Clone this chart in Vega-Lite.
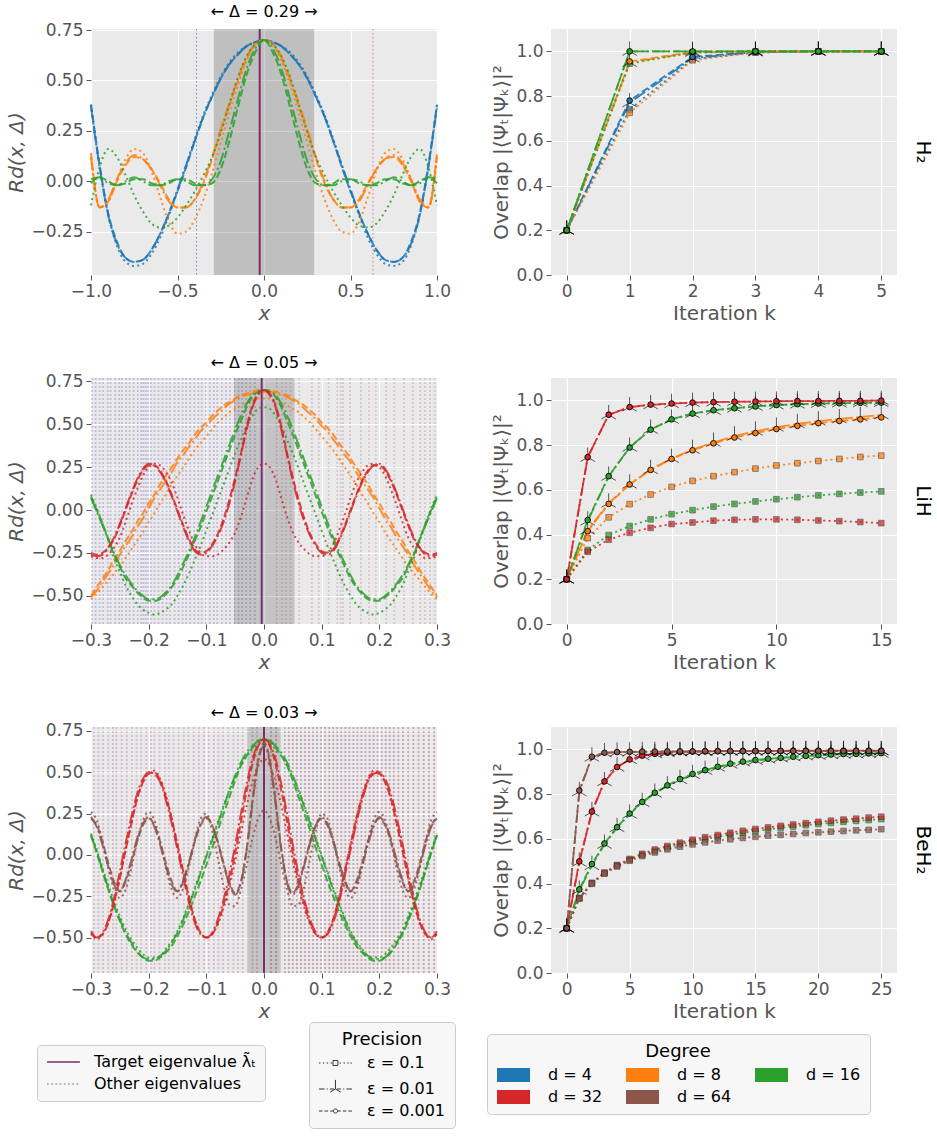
{
  "$schema": "https://vega.github.io/schema/vega-lite/v6.json",
  "background": "white",
  "padding": {"left": 6, "top": 4, "right": 5, "bottom": 5},
  "config": {
    "font": "DejaVu Sans",
    "view": {"fill": "#EAEAEA", "stroke": null},
    "axis": {"domain": false, "grid": true, "gridColor": "#FFFFFF", "gridWidth": 1.2, "tickColor": "#555555", "tickSize": 5, "tickWidth": 1, "labelColor": "#555555", "labelFontSize": 17, "labelPadding": 3, "labelFlush": false, "labelOverlap": false, "titleColor": "#555555", "titleFontSize": 20, "titleFontWeight": "normal", "titlePadding": 4},
    "title": {"fontWeight": "normal", "color": "#000000", "fontSize": 16},
    "legend": {"labelFont": "DejaVu Sans", "titleFont": "DejaVu Sans", "labelLimit": 400}
  },
  "datasets": {
    "p1": [
      {"x":-1,"B1":0.38,"B2":0.37,"B3":0.38,"O1":0.12,"O2":0.12,"O3":0.14,"G1":-0.12,"G2":0.01,"G3":-0.01},
      {"x":-0.95,"B1":0.07,"B2":0.07,"B3":0.08,"O1":-0.13,"O2":-0.13,"O3":-0.13,"G1":0.07,"G2":0.02,"G3":0.02},
      {"x":-0.9,"B1":-0.17,"B2":-0.17,"B3":-0.16,"O1":-0.10,"O2":-0.09,"O3":-0.10,"G1":0.16,"G2":-0.01,"G3":0.00},
      {"x":-0.85,"B1":-0.32,"B2":-0.31,"B3":-0.30,"O1":0.01,"O2":0.01,"O3":0.00,"G1":0.12,"G2":-0.02,"G3":-0.02},
      {"x":-0.8,"B1":-0.40,"B2":-0.38,"B3":-0.38,"O1":0.11,"O2":0.09,"O3":0.08,"G1":0.03,"G2":0.00,"G3":-0.01},
      {"x":-0.75,"B1":-0.42,"B2":-0.40,"B3":-0.40,"O1":0.16,"O2":0.13,"O3":0.12,"G1":-0.07,"G2":0.02,"G3":0.01},
      {"x":-0.7,"B1":-0.41,"B2":-0.39,"B3":-0.39,"O1":0.14,"O2":0.11,"O3":0.11,"G1":-0.15,"G2":0.00,"G3":0.01},
      {"x":-0.65,"B1":-0.36,"B2":-0.34,"B3":-0.34,"O1":0.05,"O2":0.06,"O3":0.06,"G1":-0.21,"G2":-0.02,"G3":-0.01},
      {"x":-0.6,"B1":-0.28,"B2":-0.26,"B3":-0.26,"O1":-0.08,"O2":-0.02,"O3":-0.01,"G1":-0.23,"G2":-0.02,"G3":-0.02},
      {"x":-0.55,"B1":-0.17,"B2":-0.16,"B3":-0.16,"O1":-0.20,"O2":-0.10,"O3":-0.09,"G1":-0.22,"G2":0.00,"G3":-0.01},
      {"x":-0.5,"B1":-0.05,"B2":-0.04,"B3":-0.05,"O1":-0.26,"O2":-0.13,"O3":-0.13,"G1":-0.18,"G2":0.01,"G3":0.01},
      {"x":-0.45,"B1":0.08,"B2":0.08,"B3":0.07,"O1":-0.25,"O2":-0.13,"O3":-0.13,"G1":-0.12,"G2":0.00,"G3":0.01},
      {"x":-0.4,"B1":0.21,"B2":0.20,"B3":0.20,"O1":-0.19,"O2":-0.09,"O3":-0.09,"G1":-0.05,"G2":-0.02,"G3":-0.01},
      {"x":-0.35,"B1":0.33,"B2":0.32,"B3":0.32,"O1":-0.09,"O2":0.00,"O3":-0.01,"G1":0.03,"G2":-0.02,"G3":-0.02},
      {"x":-0.3,"B1":0.43,"B2":0.42,"B3":0.42,"O1":0.04,"O2":0.12,"O3":0.11,"G1":0.12,"G2":0.01,"G3":-0.01},
      {"x":-0.25,"B1":0.52,"B2":0.51,"B3":0.51,"O1":0.19,"O2":0.26,"O3":0.25,"G1":0.24,"G2":0.10,"G3":0.06},
      {"x":-0.2,"B1":0.59,"B2":0.58,"B3":0.58,"O1":0.34,"O2":0.39,"O3":0.38,"G1":0.38,"G2":0.25,"G3":0.20},
      {"x":-0.15,"B1":0.64,"B2":0.63,"B3":0.63,"O1":0.48,"O2":0.51,"O3":0.50,"G1":0.52,"G2":0.41,"G3":0.37},
      {"x":-0.1,"B1":0.67,"B2":0.67,"B3":0.67,"O1":0.60,"O2":0.62,"O3":0.61,"G1":0.62,"G2":0.56,"G3":0.53},
      {"x":-0.05,"B1":0.69,"B2":0.69,"B3":0.69,"O1":0.68,"O2":0.68,"O3":0.68,"G1":0.68,"G2":0.66,"G3":0.64},
      {"x":0,"B1":0.70,"B2":0.70,"B3":0.70,"O1":0.70,"O2":0.70,"O3":0.70,"G1":0.70,"G2":0.70,"G3":0.70},
      {"x":0.05,"B1":0.69,"B2":0.69,"B3":0.69,"O1":0.68,"O2":0.68,"O3":0.68,"G1":0.68,"G2":0.66,"G3":0.64},
      {"x":0.1,"B1":0.67,"B2":0.67,"B3":0.67,"O1":0.60,"O2":0.62,"O3":0.61,"G1":0.62,"G2":0.56,"G3":0.53},
      {"x":0.15,"B1":0.64,"B2":0.63,"B3":0.63,"O1":0.48,"O2":0.51,"O3":0.50,"G1":0.52,"G2":0.41,"G3":0.37},
      {"x":0.2,"B1":0.59,"B2":0.58,"B3":0.58,"O1":0.34,"O2":0.39,"O3":0.38,"G1":0.38,"G2":0.25,"G3":0.20},
      {"x":0.25,"B1":0.52,"B2":0.51,"B3":0.51,"O1":0.19,"O2":0.26,"O3":0.25,"G1":0.24,"G2":0.10,"G3":0.06},
      {"x":0.3,"B1":0.43,"B2":0.42,"B3":0.42,"O1":0.04,"O2":0.12,"O3":0.11,"G1":0.12,"G2":0.01,"G3":-0.01},
      {"x":0.35,"B1":0.33,"B2":0.32,"B3":0.32,"O1":-0.09,"O2":0.00,"O3":-0.01,"G1":0.03,"G2":-0.02,"G3":-0.02},
      {"x":0.4,"B1":0.21,"B2":0.20,"B3":0.20,"O1":-0.19,"O2":-0.09,"O3":-0.09,"G1":-0.05,"G2":-0.02,"G3":-0.01},
      {"x":0.45,"B1":0.08,"B2":0.08,"B3":0.07,"O1":-0.25,"O2":-0.13,"O3":-0.13,"G1":-0.12,"G2":0.00,"G3":0.01},
      {"x":0.5,"B1":-0.05,"B2":-0.04,"B3":-0.05,"O1":-0.26,"O2":-0.13,"O3":-0.13,"G1":-0.18,"G2":0.01,"G3":0.01},
      {"x":0.55,"B1":-0.17,"B2":-0.16,"B3":-0.16,"O1":-0.20,"O2":-0.10,"O3":-0.09,"G1":-0.22,"G2":0.00,"G3":-0.01},
      {"x":0.6,"B1":-0.28,"B2":-0.26,"B3":-0.26,"O1":-0.08,"O2":-0.02,"O3":-0.01,"G1":-0.23,"G2":-0.02,"G3":-0.02},
      {"x":0.65,"B1":-0.36,"B2":-0.34,"B3":-0.34,"O1":0.05,"O2":0.06,"O3":0.06,"G1":-0.21,"G2":-0.02,"G3":-0.01},
      {"x":0.7,"B1":-0.41,"B2":-0.39,"B3":-0.39,"O1":0.14,"O2":0.11,"O3":0.11,"G1":-0.15,"G2":0.00,"G3":0.01},
      {"x":0.75,"B1":-0.42,"B2":-0.40,"B3":-0.40,"O1":0.16,"O2":0.13,"O3":0.12,"G1":-0.07,"G2":0.02,"G3":0.01},
      {"x":0.8,"B1":-0.40,"B2":-0.38,"B3":-0.38,"O1":0.11,"O2":0.09,"O3":0.08,"G1":0.03,"G2":0.00,"G3":-0.01},
      {"x":0.85,"B1":-0.32,"B2":-0.31,"B3":-0.30,"O1":0.01,"O2":0.01,"O3":0.00,"G1":0.12,"G2":-0.02,"G3":-0.02},
      {"x":0.9,"B1":-0.17,"B2":-0.17,"B3":-0.16,"O1":-0.10,"O2":-0.09,"O3":-0.10,"G1":0.16,"G2":-0.01,"G3":0.00},
      {"x":0.95,"B1":0.07,"B2":0.07,"B3":0.08,"O1":-0.13,"O2":-0.13,"O3":-0.13,"G1":0.07,"G2":0.02,"G3":0.02},
      {"x":1,"B1":0.38,"B2":0.37,"B3":0.38,"O1":0.12,"O2":0.12,"O3":0.14,"G1":-0.12,"G2":0.01,"G3":-0.01}
    ],
    "p2": [
      {"x":-0.30,"O1":-0.52,"O2":-0.51,"O3":-0.50,"G1":0.09,"G2":0.07,"G3":0.08,"R1":-0.27,"R2":-0.26,"R3":-0.25},
      {"x":-0.29,"O1":-0.49,"O2":-0.47,"O3":-0.45,"G1":0.01,"G2":-0.01,"G3":0.00,"R1":-0.28,"R2":-0.27,"R3":-0.26},
      {"x":-0.28,"O1":-0.45,"O2":-0.42,"O3":-0.40,"G1":-0.08,"G2":-0.09,"G3":-0.08,"R1":-0.28,"R2":-0.26,"R3":-0.25},
      {"x":-0.27,"O1":-0.41,"O2":-0.37,"O3":-0.35,"G1":-0.18,"G2":-0.17,"G3":-0.17,"R1":-0.26,"R2":-0.22,"R3":-0.22},
      {"x":-0.26,"O1":-0.37,"O2":-0.32,"O3":-0.29,"G1":-0.28,"G2":-0.25,"G3":-0.26,"R1":-0.22,"R2":-0.16,"R3":-0.17},
      {"x":-0.25,"O1":-0.33,"O2":-0.26,"O3":-0.24,"G1":-0.36,"G2":-0.32,"G3":-0.33,"R1":-0.16,"R2":-0.08,"R3":-0.09},
      {"x":-0.24,"O1":-0.28,"O2":-0.21,"O3":-0.18,"G1":-0.44,"G2":-0.38,"G3":-0.40,"R1":-0.07,"R2":0.01,"R3":0.00},
      {"x":-0.23,"O1":-0.23,"O2":-0.16,"O3":-0.13,"G1":-0.50,"G2":-0.43,"G3":-0.44,"R1":0.03,"R2":0.10,"R3":0.09},
      {"x":-0.22,"O1":-0.18,"O2":-0.10,"O3":-0.07,"G1":-0.55,"G2":-0.47,"G3":-0.48,"R1":0.12,"R2":0.18,"R3":0.17},
      {"x":-0.21,"O1":-0.13,"O2":-0.05,"O3":-0.02,"G1":-0.58,"G2":-0.50,"G3":-0.51,"R1":0.20,"R2":0.24,"R3":0.23},
      {"x":-0.20,"O1":-0.07,"O2":0.01,"O3":0.04,"G1":-0.60,"G2":-0.52,"G3":-0.53,"R1":0.25,"R2":0.27,"R3":0.26},
      {"x":-0.19,"O1":-0.02,"O2":0.07,"O3":0.09,"G1":-0.61,"G2":-0.52,"G3":-0.53,"R1":0.27,"R2":0.26,"R3":0.26},
      {"x":-0.18,"O1":0.04,"O2":0.12,"O3":0.15,"G1":-0.60,"G2":-0.51,"G3":-0.52,"R1":0.26,"R2":0.22,"R3":0.23},
      {"x":-0.17,"O1":0.09,"O2":0.17,"O3":0.20,"G1":-0.58,"G2":-0.48,"G3":-0.49,"R1":0.22,"R2":0.16,"R3":0.17},
      {"x":-0.16,"O1":0.15,"O2":0.22,"O3":0.25,"G1":-0.55,"G2":-0.44,"G3":-0.45,"R1":0.16,"R2":0.08,"R3":0.09},
      {"x":-0.15,"O1":0.20,"O2":0.28,"O3":0.30,"G1":-0.50,"G2":-0.38,"G3":-0.40,"R1":0.07,"R2":-0.01,"R3":0.00},
      {"x":-0.14,"O1":0.25,"O2":0.32,"O3":0.35,"G1":-0.44,"G2":-0.31,"G3":-0.33,"R1":-0.03,"R2":-0.10,"R3":-0.09},
      {"x":-0.13,"O1":0.30,"O2":0.37,"O3":0.39,"G1":-0.37,"G2":-0.24,"G3":-0.26,"R1":-0.12,"R2":-0.18,"R3":-0.17},
      {"x":-0.12,"O1":0.35,"O2":0.41,"O3":0.44,"G1":-0.29,"G2":-0.16,"G3":-0.18,"R1":-0.20,"R2":-0.24,"R3":-0.23},
      {"x":-0.11,"O1":0.39,"O2":0.46,"O3":0.48,"G1":-0.21,"G2":-0.07,"G3":-0.10,"R1":-0.25,"R2":-0.26,"R3":-0.25},
      {"x":-0.10,"O1":0.43,"O2":0.49,"O3":0.51,"G1":-0.12,"G2":0.02,"G3":-0.01,"R1":-0.27,"R2":-0.25,"R3":-0.24},
      {"x":-0.09,"O1":0.47,"O2":0.53,"O3":0.55,"G1":-0.03,"G2":0.11,"G3":0.08,"R1":-0.27,"R2":-0.21,"R3":-0.20},
      {"x":-0.08,"O1":0.51,"O2":0.56,"O3":0.58,"G1":0.06,"G2":0.20,"G3":0.17,"R1":-0.26,"R2":-0.15,"R3":-0.14},
      {"x":-0.07,"O1":0.54,"O2":0.59,"O3":0.61,"G1":0.15,"G2":0.29,"G3":0.26,"R1":-0.23,"R2":-0.07,"R3":-0.05},
      {"x":-0.06,"O1":0.57,"O2":0.62,"O3":0.63,"G1":0.24,"G2":0.38,"G3":0.35,"R1":-0.19,"R2":0.04,"R3":0.06},
      {"x":-0.05,"O1":0.59,"O2":0.64,"O3":0.65,"G1":0.33,"G2":0.47,"G3":0.44,"R1":-0.13,"R2":0.17,"R3":0.19},
      {"x":-0.04,"O1":0.61,"O2":0.66,"O3":0.67,"G1":0.41,"G2":0.55,"G3":0.52,"R1":-0.04,"R2":0.32,"R3":0.33},
      {"x":-0.03,"O1":0.63,"O2":0.67,"O3":0.68,"G1":0.49,"G2":0.62,"G3":0.60,"R1":0.07,"R2":0.47,"R3":0.49},
      {"x":-0.02,"O1":0.64,"O2":0.68,"O3":0.69,"G1":0.55,"G2":0.67,"G3":0.66,"R1":0.18,"R2":0.60,"R3":0.61},
      {"x":-0.01,"O1":0.65,"O2":0.69,"O3":0.70,"G1":0.59,"G2":0.69,"G3":0.69,"R1":0.25,"R2":0.67,"R3":0.68},
      {"x":0.00,"O1":0.65,"O2":0.69,"O3":0.70,"G1":0.60,"G2":0.70,"G3":0.70,"R1":0.27,"R2":0.70,"R3":0.70},
      {"x":0.01,"O1":0.65,"O2":0.69,"O3":0.70,"G1":0.59,"G2":0.69,"G3":0.69,"R1":0.25,"R2":0.67,"R3":0.68},
      {"x":0.02,"O1":0.64,"O2":0.68,"O3":0.69,"G1":0.55,"G2":0.67,"G3":0.66,"R1":0.18,"R2":0.60,"R3":0.61},
      {"x":0.03,"O1":0.63,"O2":0.67,"O3":0.68,"G1":0.49,"G2":0.62,"G3":0.60,"R1":0.07,"R2":0.47,"R3":0.49},
      {"x":0.04,"O1":0.61,"O2":0.66,"O3":0.67,"G1":0.41,"G2":0.55,"G3":0.52,"R1":-0.04,"R2":0.32,"R3":0.33},
      {"x":0.05,"O1":0.59,"O2":0.64,"O3":0.65,"G1":0.33,"G2":0.47,"G3":0.44,"R1":-0.13,"R2":0.17,"R3":0.19},
      {"x":0.06,"O1":0.57,"O2":0.62,"O3":0.63,"G1":0.24,"G2":0.38,"G3":0.35,"R1":-0.19,"R2":0.04,"R3":0.06},
      {"x":0.07,"O1":0.54,"O2":0.59,"O3":0.61,"G1":0.15,"G2":0.29,"G3":0.26,"R1":-0.23,"R2":-0.07,"R3":-0.05},
      {"x":0.08,"O1":0.51,"O2":0.56,"O3":0.58,"G1":0.06,"G2":0.20,"G3":0.17,"R1":-0.26,"R2":-0.15,"R3":-0.14},
      {"x":0.09,"O1":0.47,"O2":0.53,"O3":0.55,"G1":-0.03,"G2":0.11,"G3":0.08,"R1":-0.27,"R2":-0.21,"R3":-0.20},
      {"x":0.10,"O1":0.43,"O2":0.49,"O3":0.51,"G1":-0.12,"G2":0.02,"G3":-0.01,"R1":-0.27,"R2":-0.25,"R3":-0.24},
      {"x":0.11,"O1":0.39,"O2":0.46,"O3":0.48,"G1":-0.21,"G2":-0.07,"G3":-0.10,"R1":-0.25,"R2":-0.26,"R3":-0.25},
      {"x":0.12,"O1":0.35,"O2":0.41,"O3":0.44,"G1":-0.29,"G2":-0.16,"G3":-0.18,"R1":-0.20,"R2":-0.24,"R3":-0.23},
      {"x":0.13,"O1":0.30,"O2":0.37,"O3":0.39,"G1":-0.37,"G2":-0.24,"G3":-0.26,"R1":-0.12,"R2":-0.18,"R3":-0.17},
      {"x":0.14,"O1":0.25,"O2":0.32,"O3":0.35,"G1":-0.44,"G2":-0.31,"G3":-0.33,"R1":-0.03,"R2":-0.10,"R3":-0.09},
      {"x":0.15,"O1":0.20,"O2":0.28,"O3":0.30,"G1":-0.50,"G2":-0.38,"G3":-0.40,"R1":0.07,"R2":-0.01,"R3":0.00},
      {"x":0.16,"O1":0.15,"O2":0.22,"O3":0.25,"G1":-0.55,"G2":-0.44,"G3":-0.45,"R1":0.16,"R2":0.08,"R3":0.09},
      {"x":0.17,"O1":0.09,"O2":0.17,"O3":0.20,"G1":-0.58,"G2":-0.48,"G3":-0.49,"R1":0.22,"R2":0.16,"R3":0.17},
      {"x":0.18,"O1":0.04,"O2":0.12,"O3":0.15,"G1":-0.60,"G2":-0.51,"G3":-0.52,"R1":0.26,"R2":0.22,"R3":0.23},
      {"x":0.19,"O1":-0.02,"O2":0.07,"O3":0.09,"G1":-0.61,"G2":-0.52,"G3":-0.53,"R1":0.27,"R2":0.26,"R3":0.26},
      {"x":0.20,"O1":-0.07,"O2":0.01,"O3":0.04,"G1":-0.60,"G2":-0.52,"G3":-0.53,"R1":0.25,"R2":0.27,"R3":0.26},
      {"x":0.21,"O1":-0.13,"O2":-0.05,"O3":-0.02,"G1":-0.58,"G2":-0.50,"G3":-0.51,"R1":0.20,"R2":0.24,"R3":0.23},
      {"x":0.22,"O1":-0.18,"O2":-0.10,"O3":-0.07,"G1":-0.55,"G2":-0.47,"G3":-0.48,"R1":0.12,"R2":0.18,"R3":0.17},
      {"x":0.23,"O1":-0.23,"O2":-0.16,"O3":-0.13,"G1":-0.50,"G2":-0.43,"G3":-0.44,"R1":0.03,"R2":0.10,"R3":0.09},
      {"x":0.24,"O1":-0.28,"O2":-0.21,"O3":-0.18,"G1":-0.44,"G2":-0.38,"G3":-0.40,"R1":-0.07,"R2":0.01,"R3":0.00},
      {"x":0.25,"O1":-0.33,"O2":-0.26,"O3":-0.24,"G1":-0.36,"G2":-0.32,"G3":-0.33,"R1":-0.16,"R2":-0.08,"R3":-0.09},
      {"x":0.26,"O1":-0.37,"O2":-0.32,"O3":-0.29,"G1":-0.28,"G2":-0.25,"G3":-0.26,"R1":-0.22,"R2":-0.16,"R3":-0.17},
      {"x":0.27,"O1":-0.41,"O2":-0.37,"O3":-0.35,"G1":-0.18,"G2":-0.17,"G3":-0.17,"R1":-0.26,"R2":-0.22,"R3":-0.22},
      {"x":0.28,"O1":-0.45,"O2":-0.42,"O3":-0.40,"G1":-0.08,"G2":-0.09,"G3":-0.08,"R1":-0.28,"R2":-0.26,"R3":-0.25},
      {"x":0.29,"O1":-0.49,"O2":-0.47,"O3":-0.45,"G1":0.01,"G2":-0.01,"G3":0.00,"R1":-0.28,"R2":-0.27,"R3":-0.26},
      {"x":0.30,"O1":-0.52,"O2":-0.51,"O3":-0.50,"G1":0.09,"G2":0.07,"G3":0.08,"R1":-0.27,"R2":-0.26,"R3":-0.25}
    ],
    "p3": [
      {"x":-0.30,"G1":0.13,"G2":0.12,"G3":0.12,"R1":-0.47,"R2":-0.48,"R3":-0.46,"N1":0.26,"N2":0.23,"N3":0.22},
      {"x":-0.29,"G1":0.03,"G2":0.02,"G3":0.01,"R1":-0.51,"R2":-0.50,"R3":-0.50,"N1":0.21,"N2":0.17,"N3":0.18},
      {"x":-0.28,"G1":-0.08,"G2":-0.09,"G3":-0.10,"R1":-0.48,"R2":-0.47,"R3":-0.48,"N1":0.08,"N2":0.06,"N3":0.08},
      {"x":-0.27,"G1":-0.18,"G2":-0.20,"G3":-0.21,"R1":-0.41,"R2":-0.39,"R3":-0.41,"N1":-0.08,"N2":-0.07,"N3":-0.05},
      {"x":-0.26,"G1":-0.28,"G2":-0.30,"G3":-0.31,"R1":-0.29,"R2":-0.26,"R3":-0.29,"N1":-0.21,"N2":-0.18,"N3":-0.16},
      {"x":-0.25,"G1":-0.37,"G2":-0.39,"G3":-0.40,"R1":-0.14,"R2":-0.10,"R3":-0.14,"N1":-0.26,"N2":-0.22,"N3":-0.22},
      {"x":-0.24,"G1":-0.45,"G2":-0.47,"G3":-0.48,"R1":0.03,"R2":0.07,"R3":0.03,"N1":-0.21,"N2":-0.15,"N3":-0.16},
      {"x":-0.23,"G1":-0.51,"G2":-0.53,"G3":-0.54,"R1":0.19,"R2":0.23,"R3":0.19,"N1":-0.08,"N2":-0.03,"N3":-0.05},
      {"x":-0.22,"G1":-0.56,"G2":-0.58,"G3":-0.59,"R1":0.34,"R2":0.37,"R3":0.34,"N1":0.08,"N2":0.10,"N3":0.08},
      {"x":-0.21,"G1":-0.60,"G2":-0.62,"G3":-0.62,"R1":0.44,"R2":0.46,"R3":0.44,"N1":0.21,"N2":0.19,"N3":0.18},
      {"x":-0.20,"G1":-0.62,"G2":-0.63,"G3":-0.64,"R1":0.50,"R2":0.50,"R3":0.49,"N1":0.26,"N2":0.23,"N3":0.22},
      {"x":-0.19,"G1":-0.62,"G2":-0.63,"G3":-0.64,"R1":0.51,"R2":0.49,"R3":0.50,"N1":0.21,"N2":0.17,"N3":0.18},
      {"x":-0.18,"G1":-0.61,"G2":-0.61,"G3":-0.62,"R1":0.46,"R2":0.44,"R3":0.45,"N1":0.08,"N2":0.06,"N3":0.08},
      {"x":-0.17,"G1":-0.57,"G2":-0.58,"G3":-0.59,"R1":0.36,"R2":0.33,"R3":0.35,"N1":-0.08,"N2":-0.07,"N3":-0.05},
      {"x":-0.16,"G1":-0.52,"G2":-0.53,"G3":-0.55,"R1":0.22,"R2":0.19,"R3":0.22,"N1":-0.21,"N2":-0.18,"N3":-0.16},
      {"x":-0.15,"G1":-0.46,"G2":-0.47,"G3":-0.49,"R1":0.06,"R2":0.03,"R3":0.06,"N1":-0.26,"N2":-0.22,"N3":-0.22},
      {"x":-0.14,"G1":-0.38,"G2":-0.39,"G3":-0.42,"R1":-0.10,"R2":-0.13,"R3":-0.10,"N1":-0.20,"N2":-0.15,"N3":-0.16},
      {"x":-0.13,"G1":-0.29,"G2":-0.30,"G3":-0.34,"R1":-0.26,"R2":-0.29,"R3":-0.26,"N1":-0.07,"N2":-0.04,"N3":-0.05},
      {"x":-0.12,"G1":-0.20,"G2":-0.21,"G3":-0.25,"R1":-0.39,"R2":-0.41,"R3":-0.39,"N1":0.09,"N2":0.09,"N3":0.08},
      {"x":-0.11,"G1":-0.10,"G2":-0.11,"G3":-0.16,"R1":-0.47,"R2":-0.48,"R3":-0.47,"N1":0.22,"N2":0.19,"N3":0.18},
      {"x":-0.10,"G1":0.00,"G2":-0.01,"G3":-0.06,"R1":-0.50,"R2":-0.50,"R3":-0.50,"N1":0.25,"N2":0.23,"N3":0.22},
      {"x":-0.09,"G1":0.10,"G2":0.09,"G3":0.04,"R1":-0.48,"R2":-0.47,"R3":-0.48,"N1":0.15,"N2":0.18,"N3":0.18},
      {"x":-0.08,"G1":0.20,"G2":0.19,"G3":0.15,"R1":-0.42,"R2":-0.39,"R3":-0.41,"N1":-0.02,"N2":0.07,"N3":0.08},
      {"x":-0.07,"G1":0.30,"G2":0.29,"G3":0.25,"R1":-0.32,"R2":-0.27,"R3":-0.30,"N1":-0.19,"N2":-0.06,"N3":-0.05},
      {"x":-0.06,"G1":0.39,"G2":0.39,"G3":0.35,"R1":-0.19,"R2":-0.12,"R3":-0.16,"N1":-0.30,"N2":-0.18,"N3":-0.17},
      {"x":-0.05,"G1":0.47,"G2":0.48,"G3":0.45,"R1":-0.04,"R2":0.06,"R3":0.01,"N1":-0.31,"N2":-0.24,"N3":-0.23},
      {"x":-0.04,"G1":0.54,"G2":0.56,"G3":0.54,"R1":0.13,"R2":0.25,"R3":0.20,"N1":-0.21,"N2":-0.17,"N3":-0.16},
      {"x":-0.03,"G1":0.60,"G2":0.62,"G3":0.60,"R1":0.30,"R2":0.43,"R3":0.39,"N1":-0.06,"N2":0.03,"N3":0.04},
      {"x":-0.02,"G1":0.64,"G2":0.66,"G3":0.65,"R1":0.44,"R2":0.58,"R3":0.55,"N1":0.10,"N2":0.31,"N3":0.33},
      {"x":-0.01,"G1":0.67,"G2":0.69,"G3":0.69,"R1":0.54,"R2":0.67,"R3":0.66,"N1":0.22,"N2":0.56,"N3":0.58},
      {"x":0.00,"G1":0.68,"G2":0.70,"G3":0.70,"R1":0.58,"R2":0.70,"R3":0.70,"N1":0.27,"N2":0.66,"N3":0.68},
      {"x":0.01,"G1":0.67,"G2":0.69,"G3":0.69,"R1":0.54,"R2":0.67,"R3":0.66,"N1":0.22,"N2":0.56,"N3":0.58},
      {"x":0.02,"G1":0.64,"G2":0.66,"G3":0.65,"R1":0.44,"R2":0.58,"R3":0.55,"N1":0.10,"N2":0.31,"N3":0.33},
      {"x":0.03,"G1":0.60,"G2":0.62,"G3":0.60,"R1":0.30,"R2":0.43,"R3":0.39,"N1":-0.06,"N2":0.03,"N3":0.04},
      {"x":0.04,"G1":0.54,"G2":0.56,"G3":0.54,"R1":0.13,"R2":0.25,"R3":0.20,"N1":-0.21,"N2":-0.17,"N3":-0.16},
      {"x":0.05,"G1":0.47,"G2":0.48,"G3":0.45,"R1":-0.04,"R2":0.06,"R3":0.01,"N1":-0.31,"N2":-0.24,"N3":-0.23},
      {"x":0.06,"G1":0.39,"G2":0.39,"G3":0.35,"R1":-0.19,"R2":-0.12,"R3":-0.16,"N1":-0.30,"N2":-0.18,"N3":-0.17},
      {"x":0.07,"G1":0.30,"G2":0.29,"G3":0.25,"R1":-0.32,"R2":-0.27,"R3":-0.30,"N1":-0.19,"N2":-0.06,"N3":-0.05},
      {"x":0.08,"G1":0.20,"G2":0.19,"G3":0.15,"R1":-0.42,"R2":-0.39,"R3":-0.41,"N1":-0.02,"N2":0.07,"N3":0.08},
      {"x":0.09,"G1":0.10,"G2":0.09,"G3":0.04,"R1":-0.48,"R2":-0.47,"R3":-0.48,"N1":0.15,"N2":0.18,"N3":0.18},
      {"x":0.10,"G1":0.00,"G2":-0.01,"G3":-0.06,"R1":-0.50,"R2":-0.50,"R3":-0.50,"N1":0.25,"N2":0.23,"N3":0.22},
      {"x":0.11,"G1":-0.10,"G2":-0.11,"G3":-0.16,"R1":-0.47,"R2":-0.48,"R3":-0.47,"N1":0.22,"N2":0.19,"N3":0.18},
      {"x":0.12,"G1":-0.20,"G2":-0.21,"G3":-0.25,"R1":-0.39,"R2":-0.41,"R3":-0.39,"N1":0.09,"N2":0.09,"N3":0.08},
      {"x":0.13,"G1":-0.29,"G2":-0.30,"G3":-0.34,"R1":-0.26,"R2":-0.29,"R3":-0.26,"N1":-0.07,"N2":-0.04,"N3":-0.05},
      {"x":0.14,"G1":-0.38,"G2":-0.39,"G3":-0.42,"R1":-0.10,"R2":-0.13,"R3":-0.10,"N1":-0.20,"N2":-0.15,"N3":-0.16},
      {"x":0.15,"G1":-0.46,"G2":-0.47,"G3":-0.49,"R1":0.06,"R2":0.03,"R3":0.06,"N1":-0.26,"N2":-0.22,"N3":-0.22},
      {"x":0.16,"G1":-0.52,"G2":-0.53,"G3":-0.55,"R1":0.22,"R2":0.19,"R3":0.22,"N1":-0.21,"N2":-0.18,"N3":-0.16},
      {"x":0.17,"G1":-0.57,"G2":-0.58,"G3":-0.59,"R1":0.36,"R2":0.33,"R3":0.35,"N1":-0.08,"N2":-0.07,"N3":-0.05},
      {"x":0.18,"G1":-0.61,"G2":-0.61,"G3":-0.62,"R1":0.46,"R2":0.44,"R3":0.45,"N1":0.08,"N2":0.06,"N3":0.08},
      {"x":0.19,"G1":-0.62,"G2":-0.63,"G3":-0.64,"R1":0.51,"R2":0.49,"R3":0.50,"N1":0.21,"N2":0.17,"N3":0.18},
      {"x":0.20,"G1":-0.62,"G2":-0.63,"G3":-0.64,"R1":0.50,"R2":0.50,"R3":0.49,"N1":0.26,"N2":0.23,"N3":0.22},
      {"x":0.21,"G1":-0.60,"G2":-0.62,"G3":-0.62,"R1":0.44,"R2":0.46,"R3":0.44,"N1":0.21,"N2":0.19,"N3":0.18},
      {"x":0.22,"G1":-0.56,"G2":-0.58,"G3":-0.59,"R1":0.34,"R2":0.37,"R3":0.34,"N1":0.08,"N2":0.10,"N3":0.08},
      {"x":0.23,"G1":-0.51,"G2":-0.53,"G3":-0.54,"R1":0.19,"R2":0.23,"R3":0.19,"N1":-0.08,"N2":-0.03,"N3":-0.05},
      {"x":0.24,"G1":-0.45,"G2":-0.47,"G3":-0.48,"R1":0.03,"R2":0.07,"R3":0.03,"N1":-0.21,"N2":-0.15,"N3":-0.16},
      {"x":0.25,"G1":-0.37,"G2":-0.39,"G3":-0.40,"R1":-0.14,"R2":-0.10,"R3":-0.14,"N1":-0.26,"N2":-0.22,"N3":-0.22},
      {"x":0.26,"G1":-0.28,"G2":-0.30,"G3":-0.31,"R1":-0.29,"R2":-0.26,"R3":-0.29,"N1":-0.21,"N2":-0.18,"N3":-0.16},
      {"x":0.27,"G1":-0.18,"G2":-0.20,"G3":-0.21,"R1":-0.41,"R2":-0.39,"R3":-0.41,"N1":-0.08,"N2":-0.07,"N3":-0.05},
      {"x":0.28,"G1":-0.08,"G2":-0.09,"G3":-0.10,"R1":-0.48,"R2":-0.47,"R3":-0.48,"N1":0.08,"N2":0.06,"N3":0.08},
      {"x":0.29,"G1":0.03,"G2":0.02,"G3":0.01,"R1":-0.51,"R2":-0.50,"R3":-0.50,"N1":0.21,"N2":0.17,"N3":0.18},
      {"x":0.30,"G1":0.13,"G2":0.12,"G3":0.12,"R1":-0.47,"R2":-0.48,"R3":-0.46,"N1":0.26,"N2":0.23,"N3":0.22}
    ],
    "h2": [
      {"k":0,"B1":0.2,"B2":0.2,"B3":0.2,"O1":0.2,"O2":0.2,"O3":0.2,"G1":0.2,"G2":0.2,"G3":0.2},
      {"k":1,"B1":0.74,"B2":0.77,"B3":0.78,"O1":0.725,"O2":0.95,"O3":0.955,"G1":0.945,"G2":1.0,"G3":1.0},
      {"k":2,"B1":0.965,"B2":0.97,"B3":0.975,"O1":0.96,"O2":0.995,"O3":0.997,"G1":0.995,"G2":1.0,"G3":1.0},
      {"k":3,"B1":0.995,"B2":0.997,"B3":0.998,"O1":0.995,"O2":1.0,"O3":1.0,"G1":1.0,"G2":1.0,"G3":1.0},
      {"k":4,"B1":1.0,"B2":1.0,"B3":1.0,"O1":1.0,"O2":1.0,"O3":1.0,"G1":1.0,"G2":1.0,"G3":1.0},
      {"k":5,"B1":1.0,"B2":1.0,"B3":1.0,"O1":1.0,"O2":1.0,"O3":1.0,"G1":1.0,"G2":1.0,"G3":1.0}
    ],
    "lih": [
      {"k":0,"O1":0.2,"O2":0.2,"O3":0.2,"G1":0.2,"G2":0.2,"G3":0.2,"R1":0.2,"R2":0.2,"R3":0.2},
      {"k":1,"O1":0.384,"O2":0.42,"O3":0.415,"G1":0.331,"G2":0.46,"G3":0.465,"R1":0.323,"R2":0.745,"R3":0.746},
      {"k":2,"O1":0.477,"O2":0.54,"O3":0.537,"G1":0.398,"G2":0.66,"G3":0.661,"R1":0.377,"R2":0.935,"R3":0.936},
      {"k":3,"O1":0.536,"O2":0.625,"O3":0.624,"G1":0.438,"G2":0.79,"G3":0.789,"R1":0.408,"R2":0.97,"R3":0.97},
      {"k":4,"O1":0.579,"O2":0.69,"O3":0.689,"G1":0.468,"G2":0.87,"G3":0.869,"R1":0.43,"R2":0.98,"R3":0.981},
      {"k":5,"O1":0.613,"O2":0.74,"O3":0.738,"G1":0.491,"G2":0.915,"G3":0.915,"R1":0.447,"R2":0.985,"R3":0.986},
      {"k":6,"O1":0.64,"O2":0.78,"O3":0.777,"G1":0.509,"G2":0.94,"G3":0.941,"R1":0.454,"R2":0.99,"R3":0.99},
      {"k":7,"O1":0.661,"O2":0.812,"O3":0.808,"G1":0.525,"G2":0.955,"G3":0.956,"R1":0.462,"R2":0.992,"R3":0.992},
      {"k":8,"O1":0.679,"O2":0.84,"O3":0.834,"G1":0.537,"G2":0.965,"G3":0.965,"R1":0.466,"R2":0.994,"R3":0.994},
      {"k":9,"O1":0.695,"O2":0.862,"O3":0.854,"G1":0.548,"G2":0.973,"G3":0.973,"R1":0.468,"R2":0.995,"R3":0.995},
      {"k":10,"O1":0.709,"O2":0.88,"O3":0.872,"G1":0.558,"G2":0.979,"G3":0.979,"R1":0.468,"R2":0.996,"R3":0.996},
      {"k":11,"O1":0.719,"O2":0.895,"O3":0.886,"G1":0.567,"G2":0.983,"G3":0.983,"R1":0.466,"R2":0.997,"R3":0.997},
      {"k":12,"O1":0.729,"O2":0.907,"O3":0.898,"G1":0.575,"G2":0.986,"G3":0.986,"R1":0.463,"R2":0.997,"R3":0.997},
      {"k":13,"O1":0.738,"O2":0.917,"O3":0.908,"G1":0.582,"G2":0.988,"G3":0.987,"R1":0.46,"R2":0.998,"R3":0.998},
      {"k":14,"O1":0.747,"O2":0.926,"O3":0.915,"G1":0.588,"G2":0.989,"G3":0.989,"R1":0.456,"R2":0.998,"R3":0.998},
      {"k":15,"O1":0.753,"O2":0.935,"O3":0.924,"G1":0.593,"G2":0.99,"G3":0.99,"R1":0.451,"R2":0.999,"R3":0.999}
    ],
    "beh2": [
      {"k":0,"G1":0.2,"G2":0.2,"G3":0.2,"R1":0.2,"R2":0.2,"R3":0.2,"N1":0.2,"N2":0.2,"N3":0.2},
      {"k":1,"G1":0.335,"G2":0.37,"G3":0.374,"R1":0.335,"R2":0.495,"R3":0.499,"N1":0.332,"N2":0.81,"N3":0.816},
      {"k":2,"G1":0.402,"G2":0.48,"G3":0.487,"R1":0.403,"R2":0.72,"R3":0.722,"N1":0.399,"N2":0.965,"N3":0.967},
      {"k":3,"G1":0.447,"G2":0.575,"G3":0.579,"R1":0.449,"R2":0.855,"R3":0.857,"N1":0.444,"N2":0.984,"N3":0.985},
      {"k":4,"G1":0.48,"G2":0.65,"G3":0.652,"R1":0.483,"R2":0.92,"R3":0.921,"N1":0.476,"N2":0.987,"N3":0.988},
      {"k":5,"G1":0.506,"G2":0.71,"G3":0.713,"R1":0.51,"R2":0.954,"R3":0.955,"N1":0.502,"N2":0.988,"N3":0.989},
      {"k":6,"G1":0.528,"G2":0.762,"G3":0.765,"R1":0.533,"R2":0.971,"R3":0.972,"N1":0.523,"N2":0.989,"N3":0.99},
      {"k":7,"G1":0.546,"G2":0.803,"G3":0.806,"R1":0.552,"R2":0.98,"R3":0.98,"N1":0.539,"N2":0.99,"N3":0.99},
      {"k":8,"G1":0.562,"G2":0.836,"G3":0.839,"R1":0.568,"R2":0.985,"R3":0.985,"N1":0.553,"N2":0.99,"N3":0.991},
      {"k":9,"G1":0.576,"G2":0.864,"G3":0.867,"R1":0.583,"R2":0.988,"R3":0.988,"N1":0.565,"N2":0.99,"N3":0.991},
      {"k":10,"G1":0.588,"G2":0.887,"G3":0.89,"R1":0.596,"R2":0.99,"R3":0.99,"N1":0.575,"N2":0.991,"N3":0.991},
      {"k":11,"G1":0.599,"G2":0.905,"G3":0.907,"R1":0.607,"R2":0.991,"R3":0.991,"N1":0.584,"N2":0.991,"N3":0.992},
      {"k":12,"G1":0.609,"G2":0.92,"G3":0.922,"R1":0.617,"R2":0.992,"R3":0.992,"N1":0.592,"N2":0.991,"N3":0.992},
      {"k":13,"G1":0.618,"G2":0.933,"G3":0.936,"R1":0.627,"R2":0.992,"R3":0.992,"N1":0.598,"N2":0.992,"N3":0.992},
      {"k":14,"G1":0.627,"G2":0.943,"G3":0.945,"R1":0.636,"R2":0.993,"R3":0.993,"N1":0.604,"N2":0.992,"N3":0.992},
      {"k":15,"G1":0.635,"G2":0.95,"G3":0.952,"R1":0.644,"R2":0.993,"R3":0.993,"N1":0.609,"N2":0.992,"N3":0.992},
      {"k":16,"G1":0.642,"G2":0.956,"G3":0.958,"R1":0.651,"R2":0.993,"R3":0.993,"N1":0.614,"N2":0.992,"N3":0.993},
      {"k":17,"G1":0.649,"G2":0.961,"G3":0.962,"R1":0.658,"R2":0.993,"R3":0.993,"N1":0.618,"N2":0.992,"N3":0.993},
      {"k":18,"G1":0.655,"G2":0.966,"G3":0.967,"R1":0.664,"R2":0.994,"R3":0.994,"N1":0.622,"N2":0.993,"N3":0.993},
      {"k":19,"G1":0.661,"G2":0.97,"G3":0.971,"R1":0.67,"R2":0.994,"R3":0.994,"N1":0.626,"N2":0.993,"N3":0.993},
      {"k":20,"G1":0.666,"G2":0.973,"G3":0.974,"R1":0.676,"R2":0.994,"R3":0.994,"N1":0.629,"N2":0.993,"N3":0.993},
      {"k":21,"G1":0.671,"G2":0.976,"G3":0.977,"R1":0.681,"R2":0.994,"R3":0.994,"N1":0.632,"N2":0.993,"N3":0.993},
      {"k":22,"G1":0.676,"G2":0.978,"G3":0.979,"R1":0.686,"R2":0.994,"R3":0.994,"N1":0.635,"N2":0.993,"N3":0.993},
      {"k":23,"G1":0.68,"G2":0.979,"G3":0.98,"R1":0.69,"R2":0.994,"R3":0.994,"N1":0.638,"N2":0.993,"N3":0.993},
      {"k":24,"G1":0.684,"G2":0.981,"G3":0.982,"R1":0.695,"R2":0.994,"R3":0.994,"N1":0.64,"N2":0.993,"N3":0.993},
      {"k":25,"G1":0.688,"G2":0.982,"G3":0.983,"R1":0.699,"R2":0.994,"R3":0.994,"N1":0.643,"N2":0.993,"N3":0.993}
    ],
    "ev2left": [{"x":-0.298},{"x":-0.292},{"x":-0.285},{"x":-0.279},{"x":-0.271},{"x":-0.266},{"x":-0.258},{"x":-0.251},{"x":-0.246},{"x":-0.239},{"x":-0.233},{"x":-0.226},{"x":-0.219},{"x":-0.213},{"x":-0.209},{"x":-0.205},{"x":-0.201},{"x":-0.196},{"x":-0.19},{"x":-0.183},{"x":-0.176},{"x":-0.169},{"x":-0.163},{"x":-0.155},{"x":-0.148},{"x":-0.141},{"x":-0.135},{"x":-0.128},{"x":-0.121},{"x":-0.114},{"x":-0.108},{"x":-0.101},{"x":-0.094},{"x":-0.087},{"x":-0.081},{"x":-0.073},{"x":-0.066},{"x":-0.059},{"x":-0.051},{"x":-0.044},{"x":-0.038},{"x":-0.031},{"x":-0.024},{"x":-0.016}],
    "ev2right": [{"x":0.022},{"x":0.031},{"x":0.038},{"x":0.046},{"x":0.061},{"x":0.083},{"x":0.095},{"x":0.112},{"x":0.127},{"x":0.133},{"x":0.137},{"x":0.149},{"x":0.168},{"x":0.182},{"x":0.194},{"x":0.212},{"x":0.226},{"x":0.243},{"x":0.258},{"x":0.271},{"x":0.279},{"x":0.288},{"x":0.296}],
    "ev3left": [{"x":-0.295},{"x":-0.287},{"x":-0.279},{"x":-0.27},{"x":-0.262},{"x":-0.256},{"x":-0.247},{"x":-0.238},{"x":-0.229},{"x":-0.221},{"x":-0.213},{"x":-0.204},{"x":-0.196},{"x":-0.19},{"x":-0.181},{"x":-0.172},{"x":-0.165},{"x":-0.157},{"x":-0.148},{"x":-0.139},{"x":-0.131},{"x":-0.122},{"x":-0.113},{"x":-0.104},{"x":-0.096},{"x":-0.087},{"x":-0.079},{"x":-0.071},{"x":-0.062},{"x":-0.053},{"x":-0.045},{"x":-0.037},{"x":-0.02},{"x":-0.012}],
    "ev3right": [{"x":0.012},{"x":0.021},{"x":0.036},{"x":0.043},{"x":0.05},{"x":0.057},{"x":0.064},{"x":0.071},{"x":0.078},{"x":0.085},{"x":0.092},{"x":0.099},{"x":0.106},{"x":0.113},{"x":0.12},{"x":0.127},{"x":0.134},{"x":0.141},{"x":0.148},{"x":0.155},{"x":0.162},{"x":0.169},{"x":0.176},{"x":0.183},{"x":0.19},{"x":0.197},{"x":0.204},{"x":0.211},{"x":0.218},{"x":0.225},{"x":0.233},{"x":0.241},{"x":0.25},{"x":0.259},{"x":0.268},{"x":0.277},{"x":0.286},{"x":0.295}]
  },
  "columns": 2,
  "spacing": {"row": 103, "column": 114},
  "bounds": "flush",
  "resolve": {"scale": {"color": "independent", "strokeDash": "independent", "shape": "independent", "stroke": "independent", "fill": "independent"}},
  "concat": [
    {
      "width": 346, "height": 246,
      "title": {"text": "← Δ = 0.29 →", "frame": "group", "offset": 1},
      "encoding": {"x": {"field": "x", "type": "quantitative", "scale": {"domain": [-1, 1], "nice": false, "zero": false}, "axis": {"title": "x", "titleFontStyle": "italic", "values": [-1, -0.5, 0, 0.5, 1], "format": ".1f"}}},
      "layer": [
        {"data": {"values": [{"x": -0.29, "x2": 0.29}]}, "mark": {"type": "rect", "color": "#000000", "opacity": 0.18}, "encoding": {"x2": {"field": "x2"}}},
        {"data": {"values": [{"x": -0.39}]}, "mark": {"type": "rule", "color": "#6a6ab8", "strokeDash": [1.5, 2.5], "strokeWidth": 1, "opacity": 0.8}, "encoding": {}},
        {"data": {"values": [{"x": 0.63}]}, "mark": {"type": "rule", "color": "#d0607a", "strokeDash": [1.5, 2.5], "strokeWidth": 1, "opacity": 0.8}, "encoding": {}},
        {"data": {"values": [{"x": -0.025}]}, "mark": {"type": "rule", "color": "#7a2d6a", "strokeWidth": 2}, "encoding": {}},
        {
          "data": {"name": "p1"},
          "transform": [{"fold": ["B1", "B2", "B3", "O1", "O2", "O3", "G1", "G2", "G3"], "as": ["c", "r"]}],
          "mark": {"type": "line", "strokeWidth": 2, "opacity": 0.85, "interpolate": "monotone"},
          "encoding": {
            "y": {"field": "r", "type": "quantitative", "scale": {"domain": [-0.465, 0.755], "nice": false, "zero": false}, "axis": {"title": "Rd(x, Δ)", "titleFontStyle": "italic", "values": [-0.25, 0, 0.25, 0.5, 0.75], "format": ".2f"}},
            "color": {"field": "c", "type": "nominal", "legend": null, "scale": {"domain": ["B1","B2","B3","O1","O2","O3","G1","G2","G3","R1","R2","R3","N1","N2","N3"], "range": ["#1f77b4","#1f77b4","#1f77b4","#ff7f0e","#ff7f0e","#ff7f0e","#2ca02c","#2ca02c","#2ca02c","#d62728","#d62728","#d62728","#8c564b","#8c564b","#8c564b"]}},
            "strokeDash": {"field": "c", "type": "nominal", "legend": null, "scale": {"domain": ["B1","B2","B3","O1","O2","O3","G1","G2","G3","R1","R2","R3","N1","N2","N3"], "range": [[2,3.3],[12.8,3.2,2,3.2],[7.4,3.2],[2,3.3],[12.8,3.2,2,3.2],[7.4,3.2],[2,3.3],[12.8,3.2,2,3.2],[7.4,3.2],[2,3.3],[12.8,3.2,2,3.2],[7.4,3.2],[2,3.3],[12.8,3.2,2,3.2],[7.4,3.2]]}}
          }
        }
      ]
    },
    {
      "width": 346, "height": 246,
      "title": {"text": "H₂", "orient": "right", "frame": "group", "anchor": "middle", "fontSize": 20, "offset": 16},
      "data": {"name": "h2"},
      "encoding": {
        "x": {"field": "k", "type": "quantitative", "scale": {"domain": [-0.25, 5.25], "nice": false, "zero": false}, "axis": {"title": "Iteration k", "values": [0, 1, 2, 3, 4, 5], "format": "d"}},
        "y": {"field": "v", "type": "quantitative", "scale": {"domain": [0, 1.1], "nice": false}, "axis": {"title": "Overlap |⟨Ψₜ|Ψₖ⟩|²", "values": [0, 0.2, 0.4, 0.6, 0.8, 1.0], "format": ".1f"}}
      },
      "layer": [
        {
          "transform": [{"fold": ["B1", "B2", "B3", "O1", "O2", "O3", "G1", "G2", "G3"], "as": ["c", "v"]}],
          "mark": {"type": "line", "strokeWidth": 1.8, "opacity": 0.9},
          "encoding": {
            "color": {"field": "c", "type": "nominal", "legend": null, "scale": {"domain": ["B1","B2","B3","O1","O2","O3","G1","G2","G3","R1","R2","R3","N1","N2","N3"], "range": ["#1f77b4","#1f77b4","#1f77b4","#ff7f0e","#ff7f0e","#ff7f0e","#2ca02c","#2ca02c","#2ca02c","#d62728","#d62728","#d62728","#8c564b","#8c564b","#8c564b"]}},
            "strokeDash": {"field": "c", "type": "nominal", "legend": null, "scale": {"domain": ["B1","B2","B3","O1","O2","O3","G1","G2","G3","R1","R2","R3","N1","N2","N3"], "range": [[2,3.3],[12.8,3.2,2,3.2],[7.4,3.2],[2,3.3],[12.8,3.2,2,3.2],[7.4,3.2],[2,3.3],[12.8,3.2,2,3.2],[7.4,3.2],[2,3.3],[12.8,3.2,2,3.2],[7.4,3.2],[2,3.3],[12.8,3.2,2,3.2],[7.4,3.2]]}}
          }
        },
        {
          "transform": [{"fold": ["B1", "O1", "G1"], "as": ["c", "v"]}],
          "mark": {"type": "point", "shape": "square", "filled": true, "size": 32, "opacity": 0.75, "stroke": "#333333", "strokeWidth": 0.7},
          "encoding": {"color": {"field": "c", "type": "nominal", "legend": null, "scale": {"domain": ["B1","B2","B3","O1","O2","O3","G1","G2","G3","R1","R2","R3","N1","N2","N3"], "range": ["#1f77b4","#1f77b4","#1f77b4","#ff7f0e","#ff7f0e","#ff7f0e","#2ca02c","#2ca02c","#2ca02c","#d62728","#d62728","#d62728","#8c564b","#8c564b","#8c564b"]}}}
        },
        {
          "transform": [{"fold": ["B2", "O2", "G2"], "as": ["c", "v"]}],
          "mark": {"type": "point", "shape": "M0,0L0,-2.2M0,0L-1.6,0.9M0,0L1.6,0.9", "filled": false, "size": 81, "color": "#000000", "strokeWidth": 0.9, "opacity": 0.7}
        },
        {
          "transform": [{"fold": ["B3", "O3", "G3"], "as": ["c", "v"]}],
          "mark": {"type": "point", "shape": "circle", "filled": true, "size": 32, "opacity": 1, "stroke": "#000000", "strokeWidth": 0.9},
          "encoding": {"color": {"field": "c", "type": "nominal", "legend": null, "scale": {"domain": ["B1","B2","B3","O1","O2","O3","G1","G2","G3","R1","R2","R3","N1","N2","N3"], "range": ["#1f77b4","#1f77b4","#1f77b4","#ff7f0e","#ff7f0e","#ff7f0e","#2ca02c","#2ca02c","#2ca02c","#d62728","#d62728","#d62728","#8c564b","#8c564b","#8c564b"]}}}
        }
      ]
    },
    {
      "width": 346, "height": 246,
      "title": {"text": "← Δ = 0.05 →", "frame": "group", "offset": 1},
      "encoding": {"x": {"field": "x", "type": "quantitative", "scale": {"domain": [-0.3, 0.3], "nice": false, "zero": false}, "axis": {"title": "x", "titleFontStyle": "italic", "values": [-0.3, -0.2, -0.1, 0, 0.1, 0.2, 0.3], "format": ".1f"}}},
      "layer": [
        {"data": {"name": "ev2left"}, "mark": {"type": "rule", "color": "#7a66c2", "strokeDash": [2, 2], "strokeWidth": 1.8, "opacity": 0.35}, "encoding": {}},
        {"data": {"name": "ev2right"}, "mark": {"type": "rule", "color": "#b0789a", "strokeDash": [2, 2], "strokeWidth": 1.8, "opacity": 0.3}, "encoding": {}},
        {"data": {"values": [{"x": -0.052, "x2": 0.053}]}, "mark": {"type": "rect", "color": "#000000", "opacity": 0.16}, "encoding": {"x2": {"field": "x2"}}},
        {"data": {"values": [{"x": -0.004}]}, "mark": {"type": "rule", "color": "#7b2d84", "strokeWidth": 2}, "encoding": {}},
        {
          "data": {"name": "p2"},
          "transform": [{"fold": ["O1", "O2", "O3", "G1", "G2", "G3", "R1", "R2", "R3"], "as": ["c", "r"]}],
          "mark": {"type": "line", "strokeWidth": 2, "opacity": 0.85, "interpolate": "monotone"},
          "encoding": {
            "y": {"field": "r", "type": "quantitative", "scale": {"domain": [-0.665, 0.77], "nice": false, "zero": false}, "axis": {"title": "Rd(x, Δ)", "titleFontStyle": "italic", "values": [-0.5, -0.25, 0, 0.25, 0.5, 0.75], "format": ".2f"}},
            "color": {"field": "c", "type": "nominal", "legend": null, "scale": {"domain": ["B1","B2","B3","O1","O2","O3","G1","G2","G3","R1","R2","R3","N1","N2","N3"], "range": ["#1f77b4","#1f77b4","#1f77b4","#ff7f0e","#ff7f0e","#ff7f0e","#2ca02c","#2ca02c","#2ca02c","#d62728","#d62728","#d62728","#8c564b","#8c564b","#8c564b"]}},
            "strokeDash": {"field": "c", "type": "nominal", "legend": null, "scale": {"domain": ["B1","B2","B3","O1","O2","O3","G1","G2","G3","R1","R2","R3","N1","N2","N3"], "range": [[2,3.3],[12.8,3.2,2,3.2],[7.4,3.2],[2,3.3],[12.8,3.2,2,3.2],[7.4,3.2],[2,3.3],[12.8,3.2,2,3.2],[7.4,3.2],[2,3.3],[12.8,3.2,2,3.2],[7.4,3.2],[2,3.3],[12.8,3.2,2,3.2],[7.4,3.2]]}}
          }
        }
      ]
    },
    {
      "width": 346, "height": 246,
      "title": {"text": "LiH", "orient": "right", "frame": "group", "anchor": "middle", "fontSize": 20, "offset": 16},
      "data": {"name": "lih"},
      "encoding": {
        "x": {"field": "k", "type": "quantitative", "scale": {"domain": [-0.75, 15.75], "nice": false, "zero": false}, "axis": {"title": "Iteration k", "values": [0, 5, 10, 15], "format": "d"}},
        "y": {"field": "v", "type": "quantitative", "scale": {"domain": [0, 1.1], "nice": false}, "axis": {"title": "Overlap |⟨Ψₜ|Ψₖ⟩|²", "values": [0, 0.2, 0.4, 0.6, 0.8, 1.0], "format": ".1f"}}
      },
      "layer": [
        {
          "transform": [{"fold": ["O1", "O2", "O3", "G1", "G2", "G3", "R1", "R2", "R3"], "as": ["c", "v"]}],
          "mark": {"type": "line", "strokeWidth": 1.8, "opacity": 0.9},
          "encoding": {
            "color": {"field": "c", "type": "nominal", "legend": null, "scale": {"domain": ["B1","B2","B3","O1","O2","O3","G1","G2","G3","R1","R2","R3","N1","N2","N3"], "range": ["#1f77b4","#1f77b4","#1f77b4","#ff7f0e","#ff7f0e","#ff7f0e","#2ca02c","#2ca02c","#2ca02c","#d62728","#d62728","#d62728","#8c564b","#8c564b","#8c564b"]}},
            "strokeDash": {"field": "c", "type": "nominal", "legend": null, "scale": {"domain": ["B1","B2","B3","O1","O2","O3","G1","G2","G3","R1","R2","R3","N1","N2","N3"], "range": [[2,3.3],[12.8,3.2,2,3.2],[7.4,3.2],[2,3.3],[12.8,3.2,2,3.2],[7.4,3.2],[2,3.3],[12.8,3.2,2,3.2],[7.4,3.2],[2,3.3],[12.8,3.2,2,3.2],[7.4,3.2],[2,3.3],[12.8,3.2,2,3.2],[7.4,3.2]]}}
          }
        },
        {
          "transform": [{"fold": ["O1", "G1", "R1"], "as": ["c", "v"]}],
          "mark": {"type": "point", "shape": "square", "filled": true, "size": 32, "opacity": 0.75, "stroke": "#333333", "strokeWidth": 0.7},
          "encoding": {"color": {"field": "c", "type": "nominal", "legend": null, "scale": {"domain": ["B1","B2","B3","O1","O2","O3","G1","G2","G3","R1","R2","R3","N1","N2","N3"], "range": ["#1f77b4","#1f77b4","#1f77b4","#ff7f0e","#ff7f0e","#ff7f0e","#2ca02c","#2ca02c","#2ca02c","#d62728","#d62728","#d62728","#8c564b","#8c564b","#8c564b"]}}}
        },
        {
          "transform": [{"fold": ["O2", "G2", "R2"], "as": ["c", "v"]}],
          "mark": {"type": "point", "shape": "M0,0L0,-2.2M0,0L-1.6,0.9M0,0L1.6,0.9", "filled": false, "size": 81, "color": "#000000", "strokeWidth": 0.9, "opacity": 0.7}
        },
        {
          "transform": [{"fold": ["O3", "G3", "R3"], "as": ["c", "v"]}],
          "mark": {"type": "point", "shape": "circle", "filled": true, "size": 32, "opacity": 1, "stroke": "#000000", "strokeWidth": 0.9},
          "encoding": {"color": {"field": "c", "type": "nominal", "legend": null, "scale": {"domain": ["B1","B2","B3","O1","O2","O3","G1","G2","G3","R1","R2","R3","N1","N2","N3"], "range": ["#1f77b4","#1f77b4","#1f77b4","#ff7f0e","#ff7f0e","#ff7f0e","#2ca02c","#2ca02c","#2ca02c","#d62728","#d62728","#d62728","#8c564b","#8c564b","#8c564b"]}}}
        }
      ]
    },
    {
      "width": 346, "height": 246,
      "title": {"text": "← Δ = 0.03 →", "frame": "group", "offset": 1},
      "encoding": {"x": {"field": "x", "type": "quantitative", "scale": {"domain": [-0.3, 0.3], "nice": false, "zero": false}, "axis": {"title": "x", "titleFontStyle": "italic", "values": [-0.3, -0.2, -0.1, 0, 0.1, 0.2, 0.3], "format": ".1f"}}},
      "layer": [
        {"data": {"name": "ev3left"}, "mark": {"type": "rule", "color": "#a05a88", "strokeDash": [2, 2], "strokeWidth": 1.8, "opacity": 0.33}, "encoding": {}},
        {"data": {"name": "ev3right"}, "mark": {"type": "rule", "color": "#8a2c5c", "strokeDash": [2, 2], "strokeWidth": 1.8, "opacity": 0.38}, "encoding": {}},
        {"data": {"values": [{"x": -0.029, "x2": 0.029}]}, "mark": {"type": "rect", "color": "#000000", "opacity": 0.16}, "encoding": {"x2": {"field": "x2"}}},
        {"data": {"values": [{"x": 0.0}]}, "mark": {"type": "rule", "color": "#7a2d6a", "strokeWidth": 2}, "encoding": {}},
        {
          "data": {"name": "p3"},
          "transform": [{"fold": ["G1", "G2", "G3", "R1", "R2", "R3", "N1", "N2", "N3"], "as": ["c", "r"]}],
          "mark": {"type": "line", "strokeWidth": 2, "opacity": 0.85, "interpolate": "monotone"},
          "encoding": {
            "y": {"field": "r", "type": "quantitative", "scale": {"domain": [-0.714, 0.774], "nice": false, "zero": false}, "axis": {"title": "Rd(x, Δ)", "titleFontStyle": "italic", "values": [-0.5, -0.25, 0, 0.25, 0.5, 0.75], "format": ".2f"}},
            "color": {"field": "c", "type": "nominal", "legend": null, "scale": {"domain": ["B1","B2","B3","O1","O2","O3","G1","G2","G3","R1","R2","R3","N1","N2","N3"], "range": ["#1f77b4","#1f77b4","#1f77b4","#ff7f0e","#ff7f0e","#ff7f0e","#2ca02c","#2ca02c","#2ca02c","#d62728","#d62728","#d62728","#8c564b","#8c564b","#8c564b"]}},
            "strokeDash": {"field": "c", "type": "nominal", "legend": null, "scale": {"domain": ["B1","B2","B3","O1","O2","O3","G1","G2","G3","R1","R2","R3","N1","N2","N3"], "range": [[2,3.3],[12.8,3.2,2,3.2],[7.4,3.2],[2,3.3],[12.8,3.2,2,3.2],[7.4,3.2],[2,3.3],[12.8,3.2,2,3.2],[7.4,3.2],[2,3.3],[12.8,3.2,2,3.2],[7.4,3.2],[2,3.3],[12.8,3.2,2,3.2],[7.4,3.2]]}}
          }
        }
      ]
    },
    {
      "width": 346, "height": 246,
      "title": {"text": "BeH₂", "orient": "right", "frame": "group", "anchor": "middle", "fontSize": 20, "offset": 16},
      "data": {"name": "beh2"},
      "encoding": {
        "x": {"field": "k", "type": "quantitative", "scale": {"domain": [-1.25, 26.25], "nice": false, "zero": false}, "axis": {"title": "Iteration k", "values": [0, 5, 10, 15, 20, 25], "format": "d"}},
        "y": {"field": "v", "type": "quantitative", "scale": {"domain": [0, 1.1], "nice": false}, "axis": {"title": "Overlap |⟨Ψₜ|Ψₖ⟩|²", "values": [0, 0.2, 0.4, 0.6, 0.8, 1.0], "format": ".1f"}}
      },
      "layer": [
        {
          "transform": [{"fold": ["G1", "G2", "G3", "R1", "R2", "R3", "N1", "N2", "N3"], "as": ["c", "v"]}],
          "mark": {"type": "line", "strokeWidth": 1.8, "opacity": 0.9},
          "encoding": {
            "color": {"field": "c", "type": "nominal", "legend": null, "scale": {"domain": ["B1","B2","B3","O1","O2","O3","G1","G2","G3","R1","R2","R3","N1","N2","N3"], "range": ["#1f77b4","#1f77b4","#1f77b4","#ff7f0e","#ff7f0e","#ff7f0e","#2ca02c","#2ca02c","#2ca02c","#d62728","#d62728","#d62728","#8c564b","#8c564b","#8c564b"]}},
            "strokeDash": {"field": "c", "type": "nominal", "legend": null, "scale": {"domain": ["B1","B2","B3","O1","O2","O3","G1","G2","G3","R1","R2","R3","N1","N2","N3"], "range": [[2,3.3],[12.8,3.2,2,3.2],[7.4,3.2],[2,3.3],[12.8,3.2,2,3.2],[7.4,3.2],[2,3.3],[12.8,3.2,2,3.2],[7.4,3.2],[2,3.3],[12.8,3.2,2,3.2],[7.4,3.2],[2,3.3],[12.8,3.2,2,3.2],[7.4,3.2]]}}
          }
        },
        {
          "transform": [{"fold": ["G1", "R1", "N1"], "as": ["c", "v"]}],
          "mark": {"type": "point", "shape": "square", "filled": true, "size": 32, "opacity": 0.75, "stroke": "#333333", "strokeWidth": 0.7},
          "encoding": {"color": {"field": "c", "type": "nominal", "legend": null, "scale": {"domain": ["B1","B2","B3","O1","O2","O3","G1","G2","G3","R1","R2","R3","N1","N2","N3"], "range": ["#1f77b4","#1f77b4","#1f77b4","#ff7f0e","#ff7f0e","#ff7f0e","#2ca02c","#2ca02c","#2ca02c","#d62728","#d62728","#d62728","#8c564b","#8c564b","#8c564b"]}}}
        },
        {
          "transform": [{"fold": ["G2", "R2", "N2"], "as": ["c", "v"]}],
          "mark": {"type": "point", "shape": "M0,0L0,-2.2M0,0L-1.6,0.9M0,0L1.6,0.9", "filled": false, "size": 81, "color": "#000000", "strokeWidth": 0.9, "opacity": 0.7}
        },
        {
          "transform": [{"fold": ["G3", "R3", "N3"], "as": ["c", "v"]}],
          "mark": {"type": "point", "shape": "circle", "filled": true, "size": 32, "opacity": 1, "stroke": "#000000", "strokeWidth": 0.9},
          "encoding": {"color": {"field": "c", "type": "nominal", "legend": null, "scale": {"domain": ["B1","B2","B3","O1","O2","O3","G1","G2","G3","R1","R2","R3","N1","N2","N3"], "range": ["#1f77b4","#1f77b4","#1f77b4","#ff7f0e","#ff7f0e","#ff7f0e","#2ca02c","#2ca02c","#2ca02c","#d62728","#d62728","#d62728","#8c564b","#8c564b","#8c564b"]}}}
        }
      ]
    },
    {
      "width": 346, "height": 10,
      "view": {"fill": null, "stroke": null},
      "resolve": {"scale": {"shape": "independent", "stroke": "independent", "fill": "independent"}},
      "layer": [
        {
          "data": {"values": [{"lab": "Target eigenvalue λ̃ₜ"}, {"lab": "Other eigenvalues"}]},
          "mark": {"type": "point", "filled": false, "opacity": 0},
          "encoding": {
            "stroke": {"field": "lab", "type": "nominal", "scale": {"domain": ["Target eigenvalue λ̃ₜ", "Other eigenvalues"], "range": ["#7a2d6a", "#a0a0a0"]},
              "legend": {"orient": "none", "legendX": -54, "legendY": -31, "title": null, "symbolSize": 196, "symbolStrokeWidth": 1.5, "symbolOpacity": 1, "labelFontSize": 16, "labelOffset": 32, "labelColor": "#000000", "padding": 9, "rowPadding": 6, "fillColor": "#F7F7F7", "strokeColor": "#CCCCCC", "cornerRadius": 4}},
            "shape": {"field": "lab", "type": "nominal", "scale": {"domain": ["Target eigenvalue λ̃ₜ", "Other eigenvalues"], "range": ["M-1,0H3.7", "M-1,0h0.25M-0.4,0h0.25M0.2,0h0.25M0.8,0h0.25M1.4,0h0.25M2,0h0.25M2.6,0h0.25M3.2,0h0.25"]},
              "legend": {"orient": "none", "legendX": -54, "legendY": -31, "title": null, "symbolSize": 196, "symbolStrokeWidth": 1.5, "symbolOpacity": 1, "labelFontSize": 16, "labelOffset": 32, "labelColor": "#000000", "padding": 9, "rowPadding": 6, "fillColor": "#F7F7F7", "strokeColor": "#CCCCCC", "cornerRadius": 4}}
          }
        },
        {
          "data": {"values": [{"prec": "ε = 0.1"}, {"prec": "ε = 0.01"}, {"prec": "ε = 0.001"}]},
          "mark": {"type": "point", "filled": false, "opacity": 0, "color": "#333333"},
          "encoding": {
            "shape": {"field": "prec", "type": "nominal", "scale": {"domain": ["ε = 0.1", "ε = 0.01", "ε = 0.001"], "range": [
              "M-1,0h0.2M-0.45,0h0.2M0.1,0h0.2M0.65,0h0.2M1.95,0h0.2M2.5,0h0.2M3.05,0h0.2M3.5,0h0.2M1,-0.35h0.7v0.7h-0.7z",
              "M-1,0h0.8M0.1,0h0.15M0.55,0h0.6M1.55,0h0.6M2.45,0h0.15M2.9,0h0.8M1.35,0V-1.3M1.35,0L0.6,0.45M1.35,0L2.1,0.45",
              "M-1,0h0.5M-0.2,0h0.5M0.6,0h0.4M1.7,0h0.4M2.4,0h0.5M3.2,0h0.5M1.65,0A0.3,0.3 0 1,0 1.05,0A0.3,0.3 0 1,0 1.65,0"]},
              "legend": {"orient": "none", "legendX": 218, "legendY": -54, "title": "Precision", "titleFontSize": 18, "titleFontWeight": "normal", "titleColor": "#000000", "titleAnchor": "middle", "titleAlign": "center", "titlePadding": 6, "symbolSize": 196, "symbolStrokeWidth": 1, "symbolOpacity": 1, "symbolStrokeColor": "#333333", "symbolFillColor": "transparent", "labelFontSize": 16, "labelOffset": 33, "labelColor": "#000000", "padding": 9, "rowPadding": 6, "fillColor": "#F7F7F7", "strokeColor": "#CCCCCC", "cornerRadius": 4}}
          }
        },
        {
          "data": {"values": [{"deg": "d = 4"}, {"deg": "d = 8"}, {"deg": "d = 16"}, {"deg": "d = 32"}, {"deg": "d = 64"}]},
          "mark": {"type": "point", "filled": true, "opacity": 0, "shape": "M-1,-1H3.72V1H-1Z"},
          "encoding": {
            "fill": {"field": "deg", "type": "nominal", "scale": {"domain": ["d = 4", "d = 32", "d = 8", "d = 64", "d = 16"], "range": ["#1f77b4", "#d62728", "#ff7f0e", "#8c564b", "#2ca02c"]},
              "legend": {"orient": "none", "legendX": 396, "legendY": -42, "title": "Degree", "columns": 3, "columnPadding": 22, "titleFontSize": 18, "titleFontWeight": "normal", "titleColor": "#000000", "titleAnchor": "middle", "titleAlign": "center", "titlePadding": 6, "symbolType": "M-1,-1H3.72V1H-1Z", "symbolSize": 196, "symbolStrokeWidth": 0, "symbolOpacity": 1, "labelFontSize": 16, "labelOffset": 36, "labelColor": "#000000", "padding": 9, "rowPadding": 6, "fillColor": "#F7F7F7", "strokeColor": "#CCCCCC", "cornerRadius": 4}}
          }
        }
      ]
    }
  ]
}
